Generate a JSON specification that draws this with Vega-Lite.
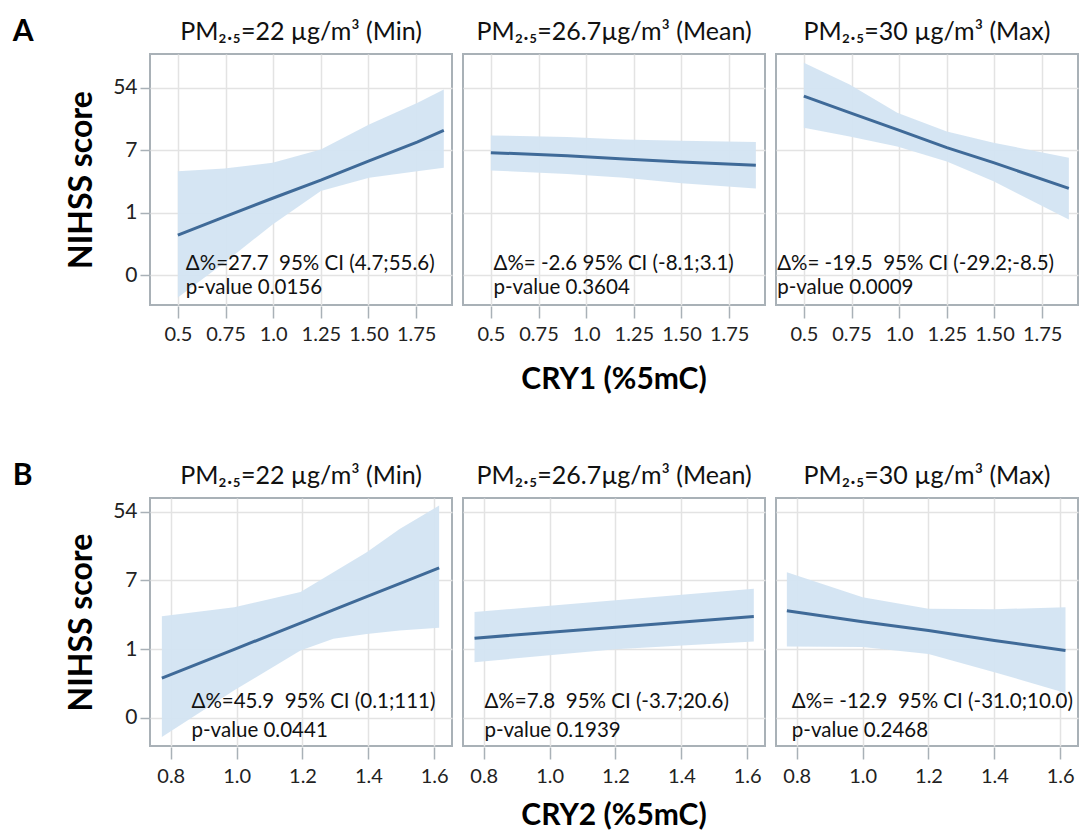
{
  "$schema": "https://vega.github.io/schema/vega-lite/v6.json",
  "background": "white",
  "padding": {"left": 12, "top": 17, "right": 2, "bottom": 0},
  "config": {
    "font": "Lato",
    "view": {"stroke": "#a9b1b7", "strokeWidth": 2},
    "axis": {"gridColor": "#e3e3e3", "gridWidth": 1.5, "domain": false, "tickColor": "#a9b1b7", "tickWidth": 1.5, "labelFont": "Lato", "titleFont": "Lato", "labelColor": "#222222", "titleColor": "#000000"},
    "header": {"labelFont": "Lato", "labelFontSize": 25, "labelColor": "#111111", "labelPadding": 8, "titleFont": "Lato", "titleFontSize": 30, "titleFontWeight": "bold", "titleColor": "#000000", "titleOrient": "bottom", "labelOrient": "top", "titlePadding": 11}
  },
  "datasets": {
    "d": [
      {"row": "A", "pm": "PM₂.₅=22 µg/m³ (Min)", "kind": "curve", "x": 0.5, "fit": 0.64, "lo": -0.36, "hi": 1.664},
      {"row": "A", "pm": "PM₂.₅=22 µg/m³ (Min)", "kind": "curve", "x": 0.744, "fit": 0.93, "lo": 0.197, "hi": 1.707},
      {"row": "A", "pm": "PM₂.₅=22 µg/m³ (Min)", "kind": "curve", "x": 0.997, "fit": 1.23, "lo": 0.81, "hi": 1.80},
      {"row": "A", "pm": "PM₂.₅=22 µg/m³ (Min)", "kind": "curve", "x": 1.25, "fit": 1.52, "lo": 1.344, "hi": 2.01},
      {"row": "A", "pm": "PM₂.₅=22 µg/m³ (Min)", "kind": "curve", "x": 1.503, "fit": 1.83, "lo": 1.557, "hi": 2.41},
      {"row": "A", "pm": "PM₂.₅=22 µg/m³ (Min)", "kind": "curve", "x": 1.755, "fit": 2.13, "lo": 1.664, "hi": 2.757},
      {"row": "A", "pm": "PM₂.₅=22 µg/m³ (Min)", "kind": "curve", "x": 1.895, "fit": 2.315, "lo": 1.717, "hi": 2.97},
      {"row": "A", "pm": "PM₂.₅=26.7µg/m³ (Mean)", "kind": "curve", "x": 0.5, "fit": 1.96, "lo": 1.675, "hi": 2.235},
      {"row": "A", "pm": "PM₂.₅=26.7µg/m³ (Mean)", "kind": "curve", "x": 0.9, "fit": 1.91, "lo": 1.62, "hi": 2.21},
      {"row": "A", "pm": "PM₂.₅=26.7µg/m³ (Mean)", "kind": "curve", "x": 1.2, "fit": 1.86, "lo": 1.557, "hi": 2.17},
      {"row": "A", "pm": "PM₂.₅=26.7µg/m³ (Mean)", "kind": "curve", "x": 1.5, "fit": 1.81, "lo": 1.47, "hi": 2.15},
      {"row": "A", "pm": "PM₂.₅=26.7µg/m³ (Mean)", "kind": "curve", "x": 1.89, "fit": 1.76, "lo": 1.387, "hi": 2.13},
      {"row": "A", "pm": "PM₂.₅=30 µg/m³ (Max)", "kind": "curve", "x": 0.5, "fit": 2.864, "lo": 2.357, "hi": 3.40},
      {"row": "A", "pm": "PM₂.₅=30 µg/m³ (Max)", "kind": "curve", "x": 0.74, "fit": 2.60, "lo": 2.22, "hi": 3.05},
      {"row": "A", "pm": "PM₂.₅=30 µg/m³ (Max)", "kind": "curve", "x": 0.99, "fit": 2.33, "lo": 2.06, "hi": 2.60},
      {"row": "A", "pm": "PM₂.₅=30 µg/m³ (Max)", "kind": "curve", "x": 1.25, "fit": 2.04, "lo": 1.82, "hi": 2.30},
      {"row": "A", "pm": "PM₂.₅=30 µg/m³ (Max)", "kind": "curve", "x": 1.495, "fit": 1.80, "lo": 1.50, "hi": 2.12},
      {"row": "A", "pm": "PM₂.₅=30 µg/m³ (Max)", "kind": "curve", "x": 1.89, "fit": 1.387, "lo": 0.89, "hi": 1.88},
      {"row": "A", "pm": "PM₂.₅=22 µg/m³ (Min)", "kind": "text", "x": 0.542, "fit": 0.18, "label": "Δ%=27.7\u00a0 95% CI (4.7;55.6)"},
      {"row": "A", "pm": "PM₂.₅=22 µg/m³ (Min)", "kind": "text", "x": 0.542, "fit": -0.21, "label": "p-value 0.0156"},
      {"row": "A", "pm": "PM₂.₅=26.7µg/m³ (Mean)", "kind": "text", "x": 0.514, "fit": 0.18, "label": "Δ%= -2.6 95% CI (-8.1;3.1)"},
      {"row": "A", "pm": "PM₂.₅=26.7µg/m³ (Mean)", "kind": "text", "x": 0.514, "fit": -0.21, "label": "p-value 0.3604"},
      {"row": "A", "pm": "PM₂.₅=30 µg/m³ (Max)", "kind": "text", "x": 0.36, "fit": 0.18, "label": "Δ%= -19.5\u00a0 95% CI (-29.2;-8.5)"},
      {"row": "A", "pm": "PM₂.₅=30 µg/m³ (Max)", "kind": "text", "x": 0.36, "fit": -0.21, "label": "p-value 0.0009"},
      {"row": "B", "pm": "PM₂.₅=22 µg/m³ (Min)", "kind": "curve", "x": 0.773, "fit": 0.578, "lo": -0.28, "hi": 1.48},
      {"row": "B", "pm": "PM₂.₅=22 µg/m³ (Min)", "kind": "curve", "x": 0.993, "fit": 0.997, "lo": 0.40, "hi": 1.61},
      {"row": "B", "pm": "PM₂.₅=22 µg/m³ (Min)", "kind": "curve", "x": 1.194, "fit": 1.38, "lo": 0.98, "hi": 1.83},
      {"row": "B", "pm": "PM₂.₅=22 µg/m³ (Min)", "kind": "curve", "x": 1.294, "fit": 1.571, "lo": 1.15, "hi": 2.12},
      {"row": "B", "pm": "PM₂.₅=22 µg/m³ (Min)", "kind": "curve", "x": 1.395, "fit": 1.764, "lo": 1.22, "hi": 2.41},
      {"row": "B", "pm": "PM₂.₅=22 µg/m³ (Min)", "kind": "curve", "x": 1.495, "fit": 1.954, "lo": 1.27, "hi": 2.75},
      {"row": "B", "pm": "PM₂.₅=22 µg/m³ (Min)", "kind": "curve", "x": 1.615, "fit": 2.183, "lo": 1.31, "hi": 3.09},
      {"row": "B", "pm": "PM₂.₅=26.7µg/m³ (Mean)", "kind": "curve", "x": 0.772, "fit": 1.16, "lo": 0.81, "hi": 1.54},
      {"row": "B", "pm": "PM₂.₅=26.7µg/m³ (Mean)", "kind": "curve", "x": 1.2, "fit": 1.32, "lo": 1.0, "hi": 1.71},
      {"row": "B", "pm": "PM₂.₅=26.7µg/m³ (Mean)", "kind": "curve", "x": 1.62, "fit": 1.475, "lo": 1.11, "hi": 1.88},
      {"row": "B", "pm": "PM₂.₅=30 µg/m³ (Max)", "kind": "curve", "x": 0.77, "fit": 1.56, "lo": 1.04, "hi": 2.12},
      {"row": "B", "pm": "PM₂.₅=30 µg/m³ (Max)", "kind": "curve", "x": 1.0, "fit": 1.40, "lo": 1.03, "hi": 1.757},
      {"row": "B", "pm": "PM₂.₅=30 µg/m³ (Max)", "kind": "curve", "x": 1.2, "fit": 1.27, "lo": 0.93, "hi": 1.587},
      {"row": "B", "pm": "PM₂.₅=30 µg/m³ (Max)", "kind": "curve", "x": 1.4, "fit": 1.125, "lo": 0.665, "hi": 1.58},
      {"row": "B", "pm": "PM₂.₅=30 µg/m³ (Max)", "kind": "curve", "x": 1.616, "fit": 0.98, "lo": 0.36, "hi": 1.61},
      {"row": "B", "pm": "PM₂.₅=22 µg/m³ (Min)", "kind": "text", "x": 0.863, "fit": 0.23, "label": "Δ%=45.9\u00a0 95% CI (0.1;111)"},
      {"row": "B", "pm": "PM₂.₅=22 µg/m³ (Min)", "kind": "text", "x": 0.863, "fit": -0.185, "label": "p-value 0.0441"},
      {"row": "B", "pm": "PM₂.₅=26.7µg/m³ (Mean)", "kind": "text", "x": 0.802, "fit": 0.23, "label": "Δ%=7.8\u00a0 95% CI (-3.7;20.6)"},
      {"row": "B", "pm": "PM₂.₅=26.7µg/m³ (Mean)", "kind": "text", "x": 0.802, "fit": -0.185, "label": "p-value 0.1939"},
      {"row": "B", "pm": "PM₂.₅=30 µg/m³ (Max)", "kind": "text", "x": 0.785, "fit": 0.23, "label": "Δ%= -12.9\u00a0 95% CI (-31.0;10.0)"},
      {"row": "B", "pm": "PM₂.₅=30 µg/m³ (Max)", "kind": "text", "x": 0.785, "fit": -0.185, "label": "p-value 0.2468"}
    ]
  },
  "spacing": 66,
  "vconcat": [
    {
      "data": {"name": "d"},
      "transform": [{"filter": "datum.row === 'A'"}],
      "title": {"text": "A", "anchor": "start", "frame": "bounds", "fontSize": 30, "fontWeight": "bold", "font": "Lato", "offset": -27, "dx": -53},
      "facet": {"column": {"field": "pm", "type": "nominal", "sort": ["PM₂.₅=22 µg/m³ (Min)", "PM₂.₅=26.7µg/m³ (Mean)", "PM₂.₅=30 µg/m³ (Max)"], "title": "CRY1 (%5mC)", "header": {"titlePadding": 11}}},
      "spacing": 9,
      "spec": {
        "width": 302,
        "height": 251,
        "layer": [
          {
            "transform": [{"filter": "datum.kind === 'curve'"}],
            "mark": {"type": "area", "color": "#d3e4f2", "opacity": 0.95},
            "encoding": {
              "x": {"field": "x", "type": "quantitative", "scale": {"domain": [0.354, 1.938], "nice": false, "zero": false},
                "axis": {"values": [0.5, 0.75, 1, 1.25, 1.5, 1.75], "labelExpr": "datum.value == 0.5 ? '0.5' : datum.value == 1 ? '1.0' : format(datum.value, '.2f')", "labelFontSize": 20, "tickSize": 12, "labelPadding": 6, "title": null}},
              "y": {"field": "lo", "type": "quantitative", "scale": {"domain": [-0.48, 3.54], "nice": false, "zero": false},
                "axis": {"values": [0, 1, 2, 3], "labelExpr": "['0','1','7','54'][datum.value]", "labelFontSize": 21, "tickSize": 9, "labelPadding": 3, "title": "NIHSS score", "titleFontSize": 32, "titleFontWeight": "bold", "titlePadding": 14}},
              "y2": {"field": "hi"}
            }
          },
          {
            "transform": [{"filter": "datum.kind === 'curve'"}],
            "mark": {"type": "line", "color": "#3f6a98", "strokeWidth": 3},
            "encoding": {
              "x": {"field": "x", "type": "quantitative"},
              "y": {"field": "fit", "type": "quantitative"}
            }
          },
          {
            "transform": [{"filter": "datum.kind === 'text'"}],
            "mark": {"type": "text", "align": "left", "baseline": "middle", "fontSize": 20.5, "font": "Lato", "color": "#111111"},
            "encoding": {
              "x": {"field": "x", "type": "quantitative"},
              "y": {"field": "fit", "type": "quantitative"},
              "text": {"field": "label"}
            }
          }
        ]
      }
    },
    {
      "data": {"name": "d"},
      "transform": [{"filter": "datum.row === 'B'"}],
      "title": {"text": "B", "anchor": "start", "frame": "bounds", "fontSize": 30, "fontWeight": "bold", "font": "Lato", "offset": -27, "dx": -53},
      "facet": {"column": {"field": "pm", "type": "nominal", "sort": ["PM₂.₅=22 µg/m³ (Min)", "PM₂.₅=26.7µg/m³ (Mean)", "PM₂.₅=30 µg/m³ (Max)"], "title": "CRY2 (%5mC)", "header": {"titlePadding": 5}}},
      "spacing": 9,
      "spec": {
        "width": 302,
        "height": 248,
        "layer": [
          {
            "transform": [{"filter": "datum.kind === 'curve'"}],
            "mark": {"type": "area", "color": "#d3e4f2", "opacity": 0.95},
            "encoding": {
              "x": {"field": "x", "type": "quantitative", "scale": {"domain": [0.737, 1.654], "nice": false, "zero": false},
                "axis": {"values": [0.8, 1, 1.2, 1.4, 1.6], "format": ".1f", "labelFontSize": 20, "tickSize": 12, "labelPadding": 7, "title": null}},
              "y": {"field": "lo", "type": "quantitative", "scale": {"domain": [-0.41, 3.2], "nice": false, "zero": false},
                "axis": {"values": [0, 1, 2, 3], "labelExpr": "['0','1','7','54'][datum.value]", "labelFontSize": 21, "tickSize": 9, "labelPadding": 3, "title": "NIHSS score", "titleFontSize": 32, "titleFontWeight": "bold", "titlePadding": 14}},
              "y2": {"field": "hi"}
            }
          },
          {
            "transform": [{"filter": "datum.kind === 'curve'"}],
            "mark": {"type": "line", "color": "#3f6a98", "strokeWidth": 3},
            "encoding": {
              "x": {"field": "x", "type": "quantitative"},
              "y": {"field": "fit", "type": "quantitative"}
            }
          },
          {
            "transform": [{"filter": "datum.kind === 'text'"}],
            "mark": {"type": "text", "align": "left", "baseline": "middle", "fontSize": 20.5, "font": "Lato", "color": "#111111"},
            "encoding": {
              "x": {"field": "x", "type": "quantitative"},
              "y": {"field": "fit", "type": "quantitative"},
              "text": {"field": "label"}
            }
          }
        ]
      }
    }
  ]
}
